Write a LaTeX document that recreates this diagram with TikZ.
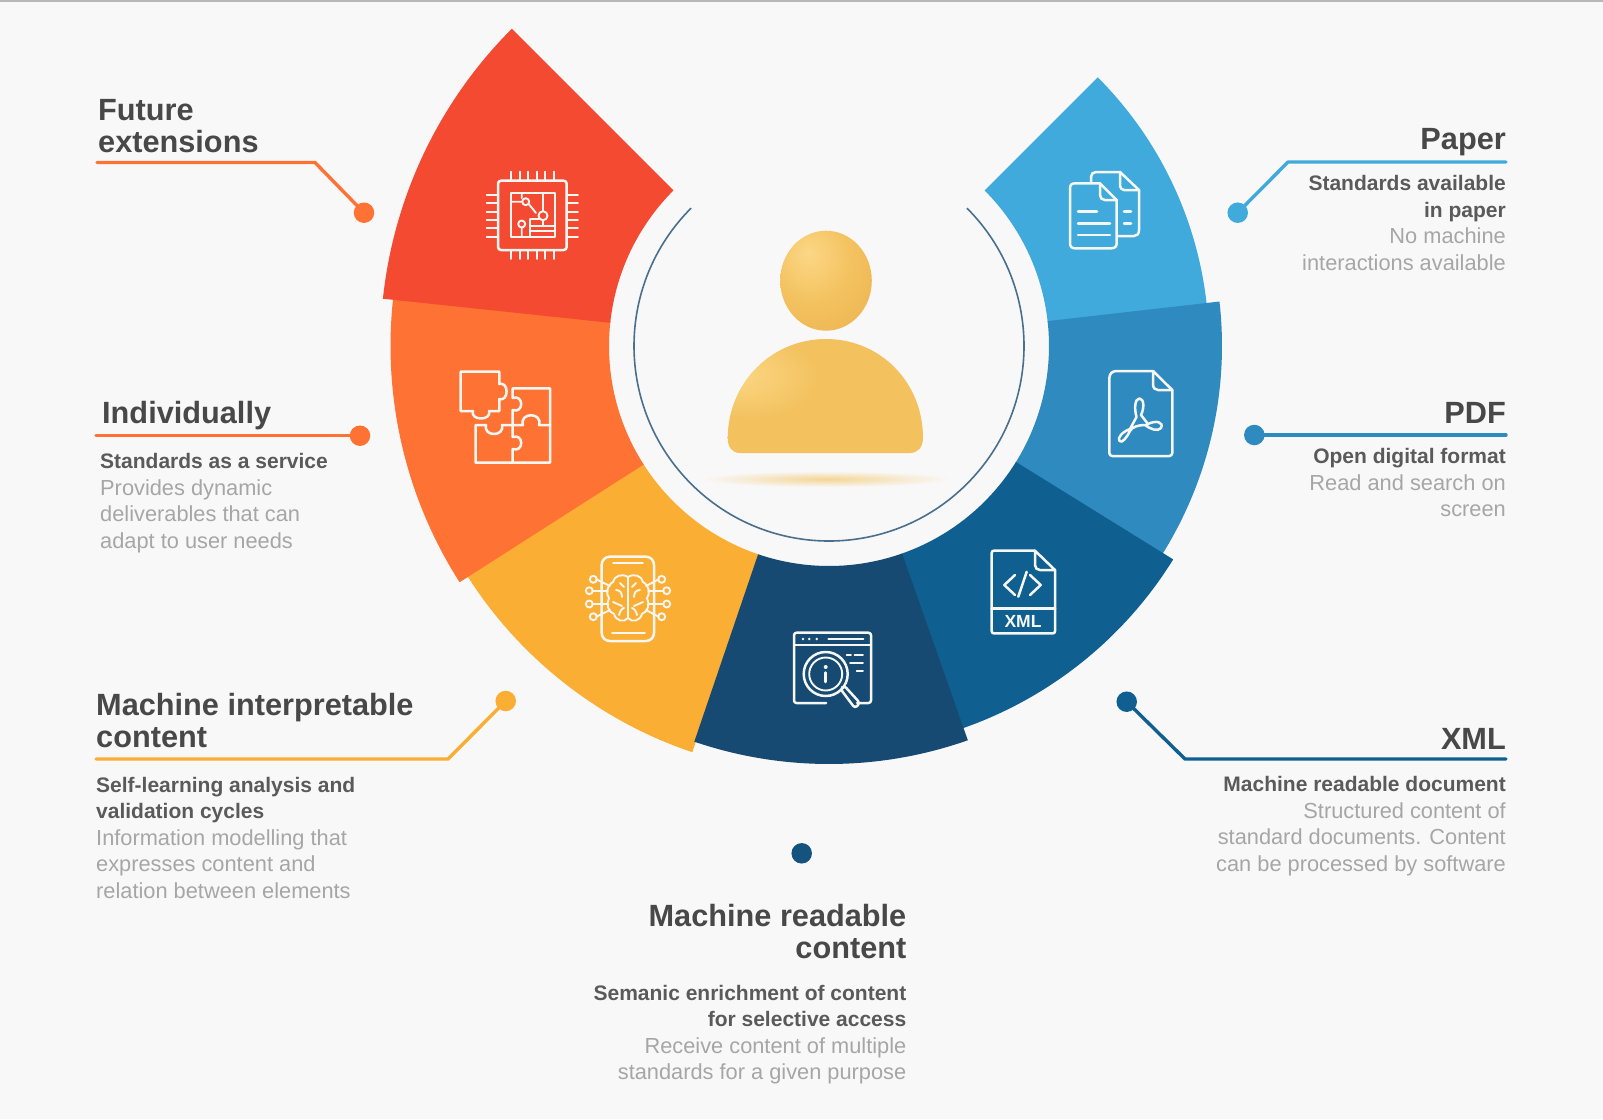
\documentclass[tikz,border=0pt]{standalone}
\usepackage{fontspec}
\setmainfont{Liberation Sans}
\usetikzlibrary{calc}
\definecolor{bgc}{HTML}{F8F8F8}
\definecolor{cred}{HTML}{F44A32}
\definecolor{corange}{HTML}{FE7333}
\definecolor{cyellow}{HTML}{FAAE33}
\definecolor{cnavy}{HTML}{164A72}
\definecolor{cxml}{HTML}{0F6090}
\definecolor{cpdf}{HTML}{2F8BBF}
\definecolor{cpaper}{HTML}{3FAADB}
\definecolor{cring}{HTML}{4A6F8C}
\definecolor{chead}{HTML}{484848}
\definecolor{cbold}{HTML}{5A5A5A}
\definecolor{creg}{HTML}{A6A6A6}
\definecolor{gA}{HTML}{FCD786}
\definecolor{gB}{HTML}{F3C25F}
\definecolor{gC}{HTML}{E9B04C}
\definecolor{gD}{HTML}{E3A843}
\definecolor{icw}{HTML}{F6F6F2}
\pgfdeclareradialshading{headshade}{\pgfpoint{-10bp}{14bp}}{color(0bp)=(gA);color(22bp)=(gB);color(50bp)=(gC);color(100bp)=(gD)}
\pgfdeclareradialshading{bodyshade}{\pgfpoint{-24bp}{10bp}}{color(0bp)=(gA);color(18bp)=(gB);color(60bp)=(gB);color(100bp)=(gD)}
\newcommand{\segm}[4]{\fill[#4] (#1:220pt) arc[start angle=#1,end angle=#2,radius=220pt] -- (#2:#3pt) arc[start angle=#2,end angle=#1,radius=#3pt] -- cycle;}
\newcommand{\bdl}[1]{{\fontsize{21}{26.5}\selectfont\bfseries\color{cbold}#1}}
\newcommand{\rgl}[1]{{\fontsize{21.8}{26.5}\selectfont\color{creg}#1}}
\newcommand{\st}{\rule{0pt}{20pt}}
\newcommand{\sth}{\rule{0pt}{30pt}}
\tikzset{
  headL/.style={anchor=north west,inner sep=0pt,align=left,text=chead,font=\fontsize{30.7}{32}\selectfont\bfseries},
  headR/.style={anchor=north east,inner sep=0pt,align=right,text=chead,font=\fontsize{30.7}{32}\selectfont\bfseries},
  bodyL/.style={anchor=north west,inner sep=0pt,align=left,font=\fontsize{22}{26.5}\selectfont},
  bodyR/.style={anchor=north east,inner sep=0pt,align=right,font=\fontsize{22}{26.5}\selectfont},
  leader/.style={line width=3.4pt,line join=round,line cap=round},
  pin/.style={circle,fill=#1,inner sep=0pt,minimum size=20.5pt},
  ic/.style={draw=icw,line width=2.5pt,line join=round,line cap=round},
  icthin/.style={draw=icw,line width=1.9pt,line join=round,line cap=round}
}
\begin{document}
\begin{tikzpicture}[x=1pt,y=-1pt]
\useasboundingbox (0,0) rectangle (1603,1119);
\fill[bgc] (0,0) rectangle (1603,1119);
\fill[black!28] (0,0) rectangle (1603,1.6);
% ring
\begin{scope}[shift={(829,346)}]
\segm{212.3}{251.4}{428.6}{cyellow}
\segm{173.5}{212.6}{438.5}{corange}
\segm{135}{173.95}{448.6}{cred}
\segm{6.3}{45}{380}{cpaper}
\segm{328}{366.5}{393}{cpdf}
\segm{289.2}{328.2}{405}{cxml}
\segm{251.2}{289.4}{418}{cnavy}
\draw[line width=1.6pt,color=cring] (135:195pt) arc[start angle=135,end angle=405,radius=195pt];
\end{scope}
% person
\shade[shading=radial,inner color=bgc!35!gB,outer color=bgc] (826,479) ellipse[x radius=125,y radius=8];
\shade[shading=headshade] (826,280.7) ellipse[x radius=45.8,y radius=50];
\shade[shading=bodyshade] (740,453) .. controls (732,453) and (727.7,447) .. (727.7,438) .. controls (728,382) and (772,339) .. (826,339) .. controls (880,339) and (923,382) .. (923,438) .. controls (923,447) and (918,453) .. (910,453) -- cycle;
% chip icon
\draw[ic,rounded corners=3pt] (498,180.7) rectangle (566.7,250);
\draw[icthin] (510.7,193) rectangle (555,236.7);
\foreach \px in {511,519.7,528,536.7,545,553.7}{\draw[icthin] (\px,171.7) -- (\px,180.7) (\px,250) -- (\px,259);}
\foreach \py in {195,203,211.7,220,228,236.7}{\draw[icthin] (486.7,\py) -- (498,\py) (566.7,\py) -- (578,\py);}
\draw[icthin] (510.7,201.7) -- (522,201.7) (528.7,204) -- (536,213) (539,219) -- (530,219) -- (530,236.7) (521.7,228) -- (521.7,236.7) (543,211) -- (543,193) (530,226) -- (555,226) (530,231) -- (555,231) (521.7,193) -- (521.7,198) (543,220) -- (543,226);
\draw[icthin] (525.7,201.7) circle[radius=3.5] (543,215.7) circle[radius=4.5] (521.7,224) circle[radius=3.5];
% puzzle icon
\draw[ic] (460.7,371.7) -- (499.3,371.7) -- (499.3,384) .. controls (509,381) and (509,402) .. (499.3,399) -- (499.3,411) -- (489,411) .. controls (492,421) and (470,421) .. (473,411) -- (460.7,411) -- cycle;
\draw[ic] (475.7,425) -- (486,425) .. controls (483,437) and (505,437) .. (502,425) -- (512.7,425) -- (512.7,437) .. controls (524,433) and (524,453) .. (512.7,449) -- (512.7,462.7) -- (475.7,462.7) -- cycle;
\draw[ic] (512.7,425) -- (512.7,410) .. controls (524,414) and (524,394) .. (512.7,398) -- (512.7,388.3) -- (550,388.3) -- (550,462.7) -- (512.7,462.7);
\draw[ic] (512.7,425) -- (523,425) .. controls (519,412) and (543,412) .. (539,425) -- (550,425);
% brain phone icon
\draw[ic,rounded corners=8pt] (601.7,556.7) rectangle (654,641);
\draw[icthin] (613,562.7) -- (643,562.7) (612,633) -- (645,633);
\foreach \lx/\ly/\ex/\ey in {593.3/579.3/610/586,589.3/590.7/608/590.7,589.3/604/608/604,593.3/616.7/610/610}{
  \fill[cyellow] (\lx,\ly) circle[radius=4];
  \draw[icthin] (\lx,\ly) circle[radius=3.5];
  \draw[icthin] (\lx+3,\ly) -- (\ex,\ey);}
\foreach \lx/\ly/\ex/\ey in {661.7/579.3/646/586,666.7/590.7/648/590.7,666.7/604/648/604,661.7/616.7/646/610}{
  \fill[cyellow] (\lx,\ly) circle[radius=4];
  \draw[icthin] (\lx,\ly) circle[radius=3.5];
  \draw[icthin] (\lx-3,\ly) -- (\ex,\ey);}
\fill[cyellow] (628,598) ellipse[x radius=20,y radius=23];
\draw[icthin] (628,577) .. controls (622,573) and (614,576) .. (613,582) .. controls (606,586) and (606,594) .. (609,598) .. controls (606,604) and (608,612) .. (614,614) .. controls (616,621) and (624,623) .. (628,618) .. controls (632,623) and (640,621) .. (642,614) .. controls (648,612) and (650,604) .. (647,598) .. controls (650,594) and (650,586) .. (643,582) .. controls (642,576) and (634,573) .. (628,577) -- (628,618);
\draw[icthin] (616,590) .. controls (620,590) and (622,593) .. (622,597) (640,590) .. controls (636,590) and (634,593) .. (634,597) (613,602) -- (622,606) (643,602) -- (634,606) (619,615) .. controls (620,610) and (623,608) .. (624,608) (637,615) .. controls (636,610) and (633,608) .. (632,608) (620,583) -- (624,587) (636,583) -- (632,587);
% search window icon
\draw[ic,rounded corners=2.5pt] (826,703) -- (794,703) -- (794,632.7) -- (871,632.7) -- (871,703) -- (857,703);
\draw[icthin] (794,645) -- (871,645) (828.3,639) -- (863.3,639) (846.7,655) -- (851,655) (854.5,655) -- (863,655) (850,663.3) -- (863,663.3) (856.7,670.7) -- (863,670.7) (816,703) -- (818,703);
\foreach \dx in {803,809.3,816.7}{\fill[icw] (\dx,639) circle[radius=1.4];}
\fill[cnavy] (828,700) rectangle (840,706);
\draw[ic] (825.7,674) circle[radius=22];
\draw[icthin] (825.7,674) circle[radius=16.5];
\fill[icw] (825.7,667) circle[radius=2];
\draw[ic] (825.7,672.5) -- (825.7,682);
\draw[ic,rounded corners=3pt] (840.5,689) -- (844,685.5) -- (860,703) -- (855,708.3) -- cycle;
% paper icon
\draw[ic] (1091,183) -- (1091,177) .. controls (1091,174) and (1093,172) .. (1096,172) -- (1120,172) -- (1139,190) -- (1139,230) .. controls (1139,234) and (1137,236) .. (1134,236) -- (1117,236);
\draw[ic] (1120,172) -- (1120,186) .. controls (1120,188) and (1122,190) .. (1124,190) -- (1139,190);
\draw[ic] (1075,183.3) -- (1100,183.3) -- (1116.7,200) -- (1116.7,243) .. controls (1116.7,246.5) and (1115,248.3) .. (1111,248.3) -- (1075,248.3) .. controls (1071.5,248.3) and (1070,246.5) .. (1070,243) -- (1070,188.5) .. controls (1070,185) and (1071.5,183.3) .. (1075,183.3) -- cycle;
\draw[ic] (1100,183.3) -- (1100,195) .. controls (1100,198) and (1102,200) .. (1105,200) -- (1116.7,200);
\draw[ic] (1078,211.7) -- (1097,211.7) (1078,223.3) -- (1110,223.3) (1078,235) -- (1110,235) (1124,211.7) -- (1131,211.7) (1124,223.3) -- (1131,223.3);
% pdf icon
\draw[ic,rounded corners=3pt] (1153,371) -- (1113,371) -- (1109.3,375) -- (1109.3,456) -- (1172.3,456) -- (1172.3,390);
\draw[ic] (1153,371) -- (1172.3,390) (1153,371) -- (1153,384) .. controls (1153,388) and (1155,390) .. (1158,390) -- (1172.3,390);
\draw[ic] (1139.5,398.5) .. controls (1144,398.5) and (1144.5,408) .. (1141,415) -- (1148,424) .. controls (1156,420) and (1164,422) .. (1161,428) .. controls (1158,432) and (1150,429) .. (1145,425) .. controls (1138,425) and (1132,427) .. (1130,431) .. controls (1127,437) and (1122,444) .. (1119.5,441) .. controls (1117,438) and (1122,432) .. (1130,429) -- (1136.5,417) .. controls (1134,408) and (1135,398.5) .. (1139.5,398.5) -- cycle;
% xml icon
\draw[ic,rounded corners=2pt] (1035,550.7) -- (991.7,550.7) -- (991.7,633.3) -- (1055,633.3) -- (1055,570);
\draw[ic] (1035,550.7) -- (1055,570) -- (1040,570) .. controls (1037,570) and (1035,568) .. (1035,565) -- cycle;
\draw[ic] (991.7,608.3) -- (1055,608.3);
\draw[ic] (1015,575) -- (1004.3,585) -- (1015,595) (1026.7,571.7) -- (1018.3,596.7) (1030,575) -- (1040.7,585) -- (1030,595);
\node[inner sep=0pt,text=icw,font=\fontsize{17.5}{18}\selectfont\bfseries] (xmlword) at (1023,621) {XML};
% pins and leaders
\node[pin=corange] (dfuture) at (364,212.7) {};
\node[pin=corange] (dind) at (360,435.7) {};
\node[pin=cyellow] (dinterp) at (505.7,701) {};
\node[pin=cnavy!60!cxml] (dread) at (801.7,853.3) {};
\node[pin=cxml] (dxml) at (1126.7,701.7) {};
\node[pin=cpdf] (dpdf) at (1254.3,435) {};
\node[pin=cpaper] (dpaper) at (1237.7,212.7) {};
\coordinate (a1) at (97,162.5); \coordinate (a2) at (315,162.5);
\coordinate (b1) at (96,435.7);
\coordinate (c1) at (96,759); \coordinate (c2) at (448,759);
\coordinate (e1) at (1506,162); \coordinate (e2) at (1288,162);
\coordinate (f1) at (1506,435);
\coordinate (g1) at (1506,759); \coordinate (g2) at (1185,759);
\draw[leader,corange] (a1) -- (a2) -- (dfuture.center);
\draw[leader,corange] (b1) -- (dind.center);
\draw[leader,cyellow] (c1) -- (c2) -- (dinterp.center);
\draw[leader,cpaper] (e1) -- (e2) -- (dpaper.center);
\draw[leader,cpdf] (f1) -- (dpdf.center);
\draw[leader,cxml] (g1) -- (g2) -- (dxml.center);
% texts
\node[headL] (t1) at (98,90) {\sth Future\\extensions};
\node[headL] (t2) at (102,393) {\sth Individually};
\node[bodyL] (t2b) at (100,448.5) {\st\bdl{Standards as a service}\\\rgl{Provides dynamic}\\\rgl{deliverables that can}\\\rgl{adapt to user needs}};
\node[headL] (t3) at (96,685) {\sth Machine interpretable\\content};
\node[bodyL] (t3b) at (96,772) {\st\bdl{Self-learning analysis and}\\\bdl{validation cycles}\\\rgl{Information modelling that}\\\rgl{expresses content and}\\\rgl{relation between elements}};
\node[headR] (t4) at (1506,119) {\sth Paper};
\node[bodyR] (t4b) at (1506,170.5) {\st\bdl{Standards available}\\\bdl{in paper}\\\rgl{No machine}\\\rgl{interactions available}};
\node[headR] (t5) at (1506,393) {\sth PDF};
\node[bodyR] (t5b) at (1506,443.5) {\st\bdl{Open digital format}\\\rgl{Read and search on}\\\rgl{screen}};
\node[headR] (t6) at (1506,719.3) {\sth XML};
\node[bodyR] (t6b) at (1506,771.3) {\st\bdl{Machine readable document}\\\rgl{Structured content of}\\\rgl{standard documents. Content}\\\rgl{can be processed by software}};
\node[headR] (t7) at (906.5,896.7) {\sth Machine readable\\content};
\node[bodyR] (t7b) at (906.5,980) {\st\bdl{Semanic enrichment of content}\\\bdl{for selective access}\\\rgl{Receive content of multiple}\\\rgl{standards for a given purpose}};
\end{tikzpicture}
\end{document}
